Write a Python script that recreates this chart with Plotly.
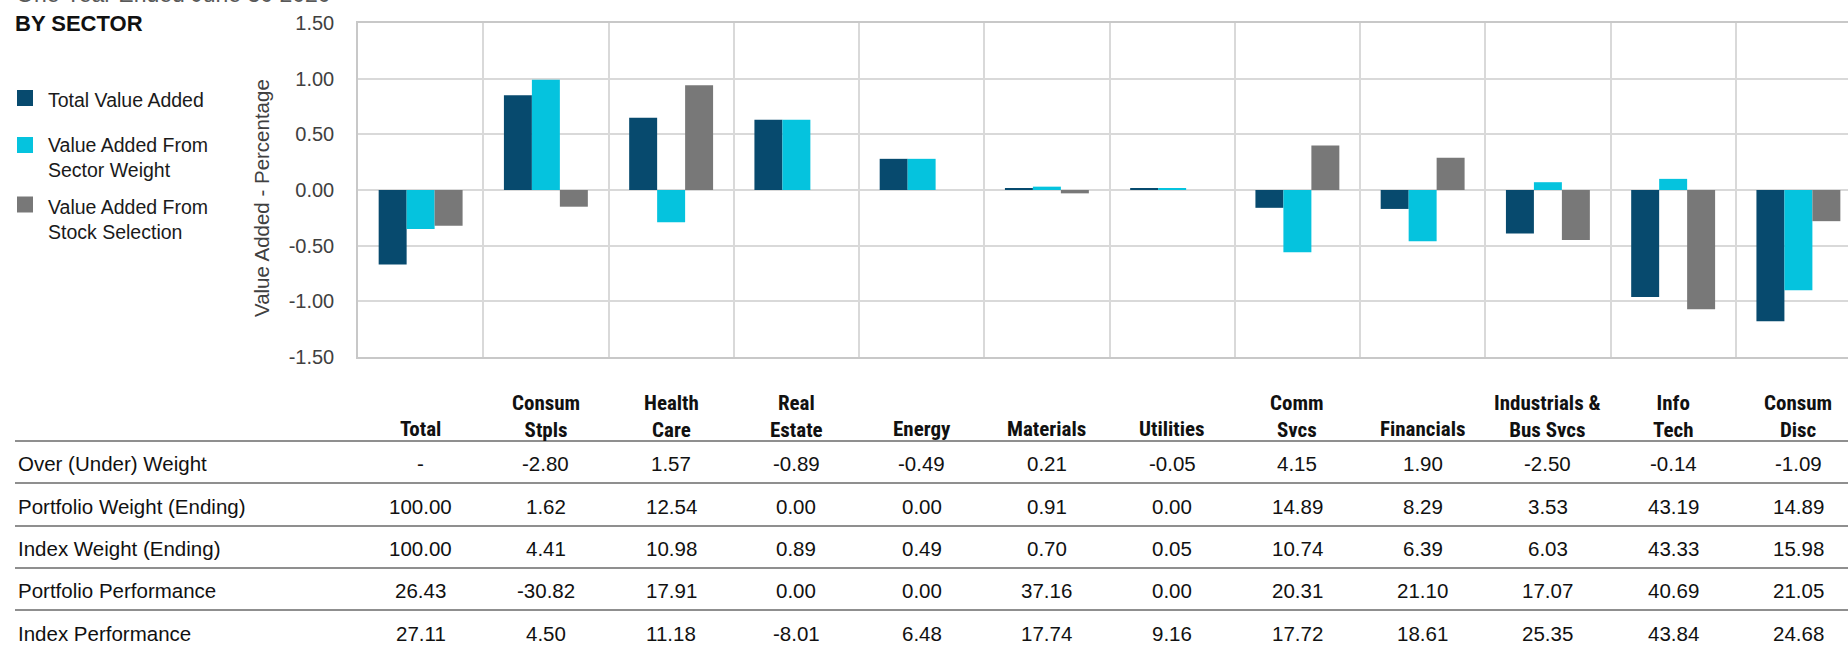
import plotly.graph_objects as go

# ---- data -------------------------------------------------------------
header_labels = ["Total", "Consum<br>Stpls", "Health<br>Care", "Real<br>Estate", "Energy",
                 "Materials", "Utilities", "Comm<br>Svcs", "Financials",
                 "Industrials &<br>Bus Svcs", "Info<br>Tech", "Consum<br>Disc"]
sectors = [h.replace("<br>", " ") for h in header_labels]

total_value_added = [-0.67, 0.85, 0.65, 0.63, 0.28, 0.01, 0.01, -0.16, -0.17, -0.39, -0.96, -1.18]
from_sector_weight = [-0.35, 0.99, -0.29, 0.63, 0.28, 0.03, 0.01, -0.56, -0.46, 0.07, 0.10, -0.90]
from_stock_selection = [-0.32, -0.15, 0.94, 0.00, 0.00, -0.03, 0.00, 0.40, 0.29, -0.45, -1.07, -0.28]

series_names = ["Total Value Added", "Value Added From<br>Sector Weight",
                "Value Added From<br>Stock Selection"]
series_colors = ["#074A6E", "#05C3DE", "#787878"]

row_labels = ["Over (Under) Weight", "Portfolio Weight (Ending)", "Index Weight (Ending)",
              "Portfolio Performance", "Index Performance"]
over_under_weight = [None, -2.80, 1.57, -0.89, -0.49, 0.21, -0.05, 4.15, 1.90, -2.50, -0.14, -1.09]
portfolio_weight = [100.00, 1.62, 12.54, 0.00, 0.00, 0.91, 0.00, 14.89, 8.29, 3.53, 43.19, 14.89]
index_weight = [100.00, 4.41, 10.98, 0.89, 0.49, 0.70, 0.05, 10.74, 6.39, 6.03, 43.33, 15.98]
portfolio_performance = [26.43, -30.82, 17.91, 0.00, 0.00, 37.16, 0.00, 20.31, 21.10, 17.07, 40.69, 21.05]
index_performance = [27.11, 4.50, 11.18, -8.01, 6.48, 17.74, 9.16, 17.72, 18.61, 25.35, 43.84, 24.68]
table_rows = [over_under_weight, portfolio_weight, index_weight,
              portfolio_performance, index_performance]

y_ticks = [-1.5, -1.0, -0.5, 0.0, 0.5, 1.0, 1.5]

# ---- layout helpers (pixel positions on a 1848 x 647 page) -----------
W, H = 1848, 647
def px(x):
    return x / W
def py(y):
    return 1 - y / H

SANS = "Liberation Sans, Arial, sans-serif"
NARROW = ("Roboto Condensed, Liberation Sans Narrow, Arial Narrow, "
          "Liberation Sans, sans-serif")

fig = go.Figure()
for vals, name, color in zip([total_value_added, from_sector_weight, from_stock_selection],
                             series_names, series_colors):
    fig.add_trace(go.Bar(x=sectors, y=vals, name=name, marker_color=color,
                         marker_line_width=0, showlegend=False))

annotations = []
shapes = []

# chart heading (first line runs off the top of the page)
annotations.append(dict(text="One Year Ended June 30 2020", xref="paper", yref="paper",
                        x=px(14), y=py(9.5), xanchor="left", yanchor="bottom", showarrow=False,
                        font=dict(family=SANS, size=23, color="#595959")))
annotations.append(dict(text="<b>BY SECTOR</b>", xref="paper", yref="paper",
                        x=px(13), y=py(24), xanchor="left", yanchor="middle", showarrow=False,
                        font=dict(family=SANS, size=22, color="#111111")))

# legend
legend_marker_y = [98, 145, 204.5]
legend_text_y = [100, 157.5, 219.5]
for name, color, my, ty in zip(series_names, series_colors, legend_marker_y, legend_text_y):
    shapes.append(dict(type="rect", xref="paper", yref="paper", x0=px(17), x1=px(33),
                       y0=py(my - 8), y1=py(my + 8), fillcolor=color, line_width=0))
    annotations.append(dict(text=name, xref="paper", yref="paper", x=px(46), y=py(ty),
                            xanchor="left", yanchor="middle", align="left", showarrow=False,
                            font=dict(family=SANS, size=19.5, color="#1a1a1a")))

# y-axis title
annotations.append(dict(text="Value Added - Percentage", xref="paper", yref="paper",
                        x=px(262), y=py(198), textangle=-90, xanchor="center", yanchor="middle",
                        showarrow=False, font=dict(family=SANS, size=20.5, color="#404040")))

# table header
for cat, lab in zip(sectors, header_labels):
    n_lines = lab.count("<br>") + 1
    yc = 429 if n_lines == 1 else 416.5
    annotations.append(dict(text=f"<b>{lab}</b>", xref="x", yref="paper", x=cat, y=py(yc),
                            xanchor="center", yanchor="middle", align="center", showarrow=False,
                            font=dict(family=NARROW, size=21, color="#111111")))

# table body
row_centers = [463, 506, 548, 590, 633]
for label, row, yc in zip(row_labels, table_rows, row_centers):
    annotations.append(dict(text=label, xref="paper", yref="paper", x=px(16), y=py(yc),
                            xanchor="left", yanchor="middle", showarrow=False,
                            font=dict(family=SANS, size=20.5, color="#111111")))
    for cat, v in zip(sectors, row):
        txt = "-" if v is None else f"{v:.2f}"
        annotations.append(dict(text=txt, xref="x", yref="paper", x=cat, y=py(yc),
                                xanchor="center", yanchor="middle", showarrow=False,
                                font=dict(family=SANS, size=20.5, color="#111111")))

# table rules
for yl in [441, 483, 526, 568, 610]:
    shapes.append(dict(type="line", xref="paper", yref="paper", x0=px(15), x1=1,
                       y0=py(yl), y1=py(yl), line=dict(color="#8F8F8F", width=2)))

fig.update_layout(
    width=W, height=H,
    margin=dict(l=0, r=0, t=0, b=0),
    paper_bgcolor="white", plot_bgcolor="white",
    barmode="group", bargap=0.33, bargroupgap=0,
    annotations=annotations, shapes=shapes,
    showlegend=False,
)
fig.update_xaxes(
    domain=[px(358), 1], type="category", range=[-0.5, 11.396], automargin=False,
    tickson="boundaries", showgrid=True, gridcolor="#D9D9D9", gridwidth=1.5,
    showticklabels=False, ticks="",
    showline=True, mirror=True, linecolor="#C8C8C8", linewidth=1.5,
)
fig.update_yaxes(
    domain=[py(357), py(23)], range=[-1.5, 1.5], automargin=False,
    tickvals=y_ticks, ticktext=[f"{v:.2f}" for v in y_ticks],
    tickfont=dict(family=SANS, size=20, color="#404040"),
    ticks="", ticklabelstandoff=18,
    showgrid=True, gridcolor="#D9D9D9", gridwidth=1.5,
    zeroline=True, zerolinecolor="#D9D9D9", zerolinewidth=1.5,
    showline=True, linecolor="#C8C8C8", linewidth=1.5,
)

# the figure fills the page edge to edge
fig.write_html("out.html", config={"displayModeBar": False},
               post_script="document.body.style.margin='0';document.body.style.overflow='hidden';")
